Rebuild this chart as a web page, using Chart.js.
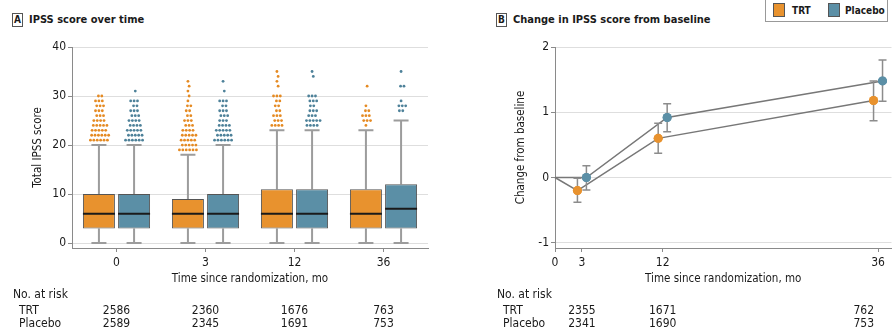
<!DOCTYPE html>
<html>
<head>
<meta charset="utf-8">
<script src="https://cdn.jsdelivr.net/npm/chart.js@4.4.0/dist/chart.umd.min.js"></script>
<style>
  body { margin: 0; background: #fff; width: 896px; height: 331px; overflow: hidden; position: relative;
         font-family: "Liberation Sans Narrow", "DejaVu Sans Condensed", "Arial Narrow", sans-serif; color: #1a1a1a; }
  canvas { position: absolute; top: 0; }
  #chartA { left: 0; }
  #chartB { left: 480px; }
  .panel-title { position: absolute; top: 13px; font-size: 11px; font-weight: bold; line-height: 14px; white-space: nowrap; }
  .panel-title .tag { display: inline-block; box-sizing: border-box; border: 1px solid #555; width: 11px; height: 14px;
                      text-align: center; font-size: 10px; line-height: 12px; margin-right: 6px; vertical-align: top; }
  .legend { position: absolute; left: 765px; top: -1px; width: 123px; height: 23px; box-sizing: border-box;
            border: 1px solid #999; font-size: 10px; font-weight: bold; }
  .legend span { position: absolute; top: 4px; line-height: 13px; }
  .legend i { position: absolute; top: 3px; width: 12px; height: 14px; box-sizing: border-box; border: 1px solid #555; }
</style>
</head>
<body>
<div class="panel-title" style="left:12px"><span class="tag">A</span>IPSS score over time</div>
<div class="panel-title" style="left:496px"><span class="tag">B</span>Change in IPSS score from baseline</div>
<div class="legend">
  <i style="left:7px;background:#e8922e"></i><span style="left:26px">TRT</span>
  <i style="left:62px;background:#5b8fa6"></i><span style="left:79px">Placebo</span>
</div>
<canvas id="chartA" width="440" height="331"></canvas>
<canvas id="chartB" width="416" height="331"></canvas>
<script>
// ---- Panel A: box plots of total IPSS score ----
const categories = ['0', '3', '12', '36'];
const yTicksA = [0, 10, 20, 30, 40];

const trtLow = [0, 0, 0, 0];
const trtQ1 = [3, 3, 3, 3];
const trtMedian = [6, 6, 6, 6];
const trtQ3 = [10, 9, 11, 11];
const trtHigh = [20, 18, 23, 23];

const plaLow = [0, 0, 0, 0];
const plaQ1 = [3, 3, 3, 3];
const plaMedian = [6, 6, 6, 7];
const plaQ3 = [10, 10, 11, 12];
const plaHigh = [20, 20, 23, 25];

// outliers as [score, number of dots]
const trtOutliers = [
  [[21, 6], [22, 6], [23, 5], [24, 5], [25, 4], [26, 3], [27, 3], [28, 3], [29, 3], [30, 2]],
  [[19, 6], [20, 5], [21, 5], [22, 5], [23, 4], [24, 3], [25, 3], [26, 2], [27, 2], [28, 2], [29, 1], [30, 1], [31, 1], [32, 1], [33, 1]],
  [[24, 4], [25, 3], [26, 3], [27, 2], [28, 2], [29, 2], [30, 3], [32, 1], [33, 1], [34, 1], [35, 1]],
  [[24, 1], [25, 3], [26, 3], [27, 2], [28, 1], [32, 1]]
];
const plaOutliers = [
  [[21, 6], [22, 5], [23, 5], [24, 4], [25, 4], [26, 3], [27, 3], [28, 2], [29, 3], [31, 1]],
  [[21, 6], [22, 5], [23, 5], [24, 4], [25, 3], [26, 3], [27, 3], [28, 2], [29, 3], [31, 1], [33, 1]],
  [[24, 4], [25, 5], [26, 3], [27, 3], [28, 2], [29, 3], [30, 3], [34, 1], [35, 1]],
  [[27, 2], [28, 3], [29, 1], [32, 2], [35, 1]]
];

const trtAtRiskA = [2586, 2360, 1676, 763];
const plaAtRiskA = [2589, 2345, 1691, 753];

// ---- Panel B: change from baseline ----
const months = [0, 3, 12, 36];
const yTicksB = [-1, 0, 1, 2];
const trtChange = [0, -0.2, 0.6, 1.18];
const trtCiLow = [null, -0.38, 0.37, 0.87];
const trtCiHigh = [null, -0.01, 0.83, 1.48];
const plaChange = [0, 0.0, 0.92, 1.48];
const plaCiLow = [null, -0.19, 0.70, 1.17];
const plaCiHigh = [null, 0.18, 1.13, 1.80];

const riskMonthsB = [3, 12, 36];
const trtAtRiskB = [2355, 1671, 762];
const plaAtRiskB = [2341, 1690, 753];

const ORANGE = '#e8922e';
const BLUE = '#5b8fa6';
const FONT = '"Liberation Sans Narrow", "DejaVu Sans Condensed", "Arial Narrow", sans-serif';
const TEXT = '#1a1a1a';
const AXIS = '#8a8a8a';
const GRID = '#dedede';

Chart.defaults.font.family = FONT;
Chart.defaults.font.size = 12;
Chart.defaults.color = TEXT;

const boxGroups = [
  { low: trtLow, q1: trtQ1, median: trtMedian, q3: trtQ3, high: trtHigh, out: trtOutliers, dot: '#e58a22' },
  { low: plaLow, q1: plaQ1, median: plaMedian, q3: plaQ3, high: plaHigh, out: plaOutliers, dot: '#4d8199' }
];

function drawAtRisk(chart, xs, trtRow, plaRow, labelX, lastRight) {
  const ctx = chart.ctx;
  ctx.save();
  ctx.fillStyle = TEXT;
  ctx.font = '12px ' + FONT;
  ctx.textBaseline = 'middle';
  ctx.textAlign = 'left';
  ctx.fillText('No. at risk', labelX, 295);
  ctx.fillText('TRT', labelX + 6, 311);
  ctx.fillText('Placebo', labelX + 6, 324);
  [trtRow, plaRow].forEach((row, r) => {
    row.forEach((v, i) => {
      const last = lastRight && i === row.length - 1;
      ctx.textAlign = last ? 'right' : 'center';
      ctx.fillText(String(v), last ? xs[i] - 4 : xs[i], r === 0 ? 311 : 324);
    });
  });
  ctx.restore();
}

const boxPlugin = {
  id: 'boxExtras',
  beforeDatasetsDraw(chart) {
    const ctx = chart.ctx, y = chart.scales.y;
    boxGroups.forEach((g, d) => {
      chart.getDatasetMeta(d).data.forEach((bar, i) => {
        const x = bar.x, cap = 7.5;
        const yQ3 = y.getPixelForValue(g.q3[i]), yQ1 = y.getPixelForValue(g.q1[i]);
        const yHi = y.getPixelForValue(g.high[i]), yLo = y.getPixelForValue(g.low[i]);
        ctx.save();
        ctx.strokeStyle = '#9c9c9c';
        ctx.lineWidth = 2;
        ctx.beginPath();
        ctx.moveTo(x, yQ3); ctx.lineTo(x, yHi);
        ctx.moveTo(x, yQ1); ctx.lineTo(x, yLo);
        ctx.moveTo(x - cap, yHi); ctx.lineTo(x + cap, yHi);
        ctx.moveTo(x - cap, yLo); ctx.lineTo(x + cap, yLo);
        ctx.stroke();
        ctx.fillStyle = g.dot;
        g.out[i].forEach(([v, n], r) => {
          const py = y.getPixelForValue(v);
          const shift = (r % 2) ? 1.2 : 0;
          for (let k = 0; k < n; k++) {
            ctx.beginPath();
            ctx.arc(x + shift + (k - (n - 1) / 2) * 3.4, py, 1.4, 0, Math.PI * 2);
            ctx.fill();
          }
        });
        ctx.restore();
      });
    });
  },
  afterDatasetsDraw(chart) {
    const ctx = chart.ctx, y = chart.scales.y;
    boxGroups.forEach((g, d) => {
      chart.getDatasetMeta(d).data.forEach((bar, i) => {
        const py = y.getPixelForValue(g.median[i]);
        ctx.save();
        ctx.strokeStyle = '#1a1a1a';
        ctx.lineWidth = 2;
        ctx.beginPath();
        ctx.moveTo(bar.x - bar.width / 2, py);
        ctx.lineTo(bar.x + bar.width / 2, py);
        ctx.stroke();
        ctx.restore();
      });
    });
  },
  afterDraw(chart) {
    const x = chart.scales.x;
    const xs = categories.map((c, i) => x.getPixelForValue(i));
    drawAtRisk(chart, xs, trtAtRiskA, plaAtRiskA, 13, false);
  }
};

new Chart(document.getElementById('chartA'), {
  type: 'bar',
  data: {
    labels: categories,
    datasets: [
      {
        label: 'TRT',
        data: trtQ1.map((q, i) => [q, trtQ3[i]]),
        backgroundColor: ORANGE,
        borderColor: '#555',
        borderWidth: 1,
        borderSkipped: false,
        categoryPercentage: 0.79,
        barPercentage: 0.91
      },
      {
        label: 'Placebo',
        data: plaQ1.map((q, i) => [q, plaQ3[i]]),
        backgroundColor: BLUE,
        borderColor: '#555',
        borderWidth: 1,
        borderSkipped: false,
        categoryPercentage: 0.79,
        barPercentage: 0.91
      }
    ]
  },
  options: {
    responsive: false,
    animation: false,
    devicePixelRatio: 1,
    layout: { padding: { top: 47, right: 12, left: 0, bottom: 0 } },
    plugins: { legend: { display: false }, tooltip: { enabled: false } },
    scales: {
      x: {
        offset: true,
        grid: { offset: false, drawOnChartArea: false, tickLength: 4, tickColor: AXIS },
        border: { color: AXIS },
        ticks: { padding: 4, color: TEXT, maxRotation: 0 },
        title: { display: true, text: 'Time since randomization, mo', color: TEXT, font: { size: 11.5 }, padding: { bottom: 45 } },
        afterFit(scale) { scale.height = 83; }
      },
      y: {
        min: -1,
        max: 40,
        grid: { color: GRID, tickLength: 4, tickColor: AXIS },
        border: { color: AXIS },
        ticks: { padding: 2, color: TEXT },
        title: { display: true, text: 'Total IPSS score', color: TEXT, font: { size: 11.5 }, padding: { top: 31 } },
        afterBuildTicks(scale) { scale.ticks = yTicksA.map(v => ({ value: v })); },
        afterFit(scale) { scale.width = 72; }
      }
    }
  },
  plugins: [boxPlugin]
});

// ---- Panel B ----
const dodge = 0.5;
const errorGroups = [
  { lo: trtCiLow, hi: trtCiHigh },
  { lo: plaCiLow, hi: plaCiHigh }
];

const errorPlugin = {
  id: 'errorBars',
  afterDatasetsDraw(chart) {
    const ctx = chart.ctx, y = chart.scales.y;
    errorGroups.forEach((g, d) => {
      chart.getDatasetMeta(d).data.forEach((pt, i) => {
        if (g.lo[i] === null) return;
        const yLo = y.getPixelForValue(g.lo[i]), yHi = y.getPixelForValue(g.hi[i]);
        ctx.save();
        ctx.strokeStyle = '#8c8c8c';
        ctx.lineWidth = 1.5;
        ctx.beginPath();
        ctx.moveTo(pt.x, yLo); ctx.lineTo(pt.x, yHi);
        ctx.moveTo(pt.x - 4, yLo); ctx.lineTo(pt.x + 4, yLo);
        ctx.moveTo(pt.x - 4, yHi); ctx.lineTo(pt.x + 4, yHi);
        ctx.stroke();
        ctx.restore();
      });
    });
    // points on top of the bars
    chart.getSortedVisibleDatasetMetas().forEach(meta => {
      meta.data.forEach((pt, i) => { if (i > 0) pt.draw(ctx, chart.chartArea); });
    });
  },
  afterDraw(chart) {
    const x = chart.scales.x;
    drawAtRisk(chart, riskMonthsB.map(m => x.getPixelForValue(m)), trtAtRiskB, plaAtRiskB, 17, true);
  }
};

function seriesPoints(values, side) {
  return months.map((m, i) => ({ x: i === 0 ? m : m + side * dodge, y: values[i] }));
}

new Chart(document.getElementById('chartB'), {
  type: 'line',
  data: {
    datasets: [
      {
        label: 'TRT',
        data: seriesPoints(trtChange, -1),
        borderColor: '#777',
        borderWidth: 1.5,
        pointRadius: [0, 4.5, 4.5, 4.5],
        pointBackgroundColor: ORANGE,
        pointBorderColor: ORANGE,
        pointBorderWidth: 0
      },
      {
        label: 'Placebo',
        data: seriesPoints(plaChange, 1),
        borderColor: '#777',
        borderWidth: 1.5,
        pointRadius: [0, 4.5, 4.5, 4.5],
        pointBackgroundColor: BLUE,
        pointBorderColor: BLUE,
        pointBorderWidth: 0
      }
    ]
  },
  options: {
    responsive: false,
    animation: false,
    devicePixelRatio: 1,
    clip: false,
    layout: { padding: { top: 47, right: 0, left: 0, bottom: 0 } },
    plugins: { legend: { display: false }, tooltip: { enabled: false } },
    scales: {
      x: {
        type: 'linear',
        min: 0,
        max: 37.5,
        grid: { drawOnChartArea: false, tickLength: 4, tickColor: AXIS },
        border: { color: AXIS },
        ticks: { padding: 4, color: TEXT, maxRotation: 0 },
        title: { display: true, text: 'Time since randomization, mo', color: TEXT, font: { size: 11.5 }, padding: { bottom: 45 } },
        afterBuildTicks(scale) { scale.ticks = months.map(v => ({ value: v })); },
        afterFit(scale) { scale.height = 83; }
      },
      y: {
        min: -1.08,
        max: 2,
        grid: { color: GRID, tickLength: 4, tickColor: AXIS },
        border: { color: AXIS },
        ticks: { padding: 2, color: TEXT },
        title: { display: true, text: 'Change from baseline', color: TEXT, font: { size: 11.5 }, padding: { top: 34 } },
        afterBuildTicks(scale) { scale.ticks = yTicksB.map(v => ({ value: v })); },
        afterFit(scale) { scale.width = 75; }
      }
    }
  },
  plugins: [errorPlugin]
});
</script>
</body>
</html>
